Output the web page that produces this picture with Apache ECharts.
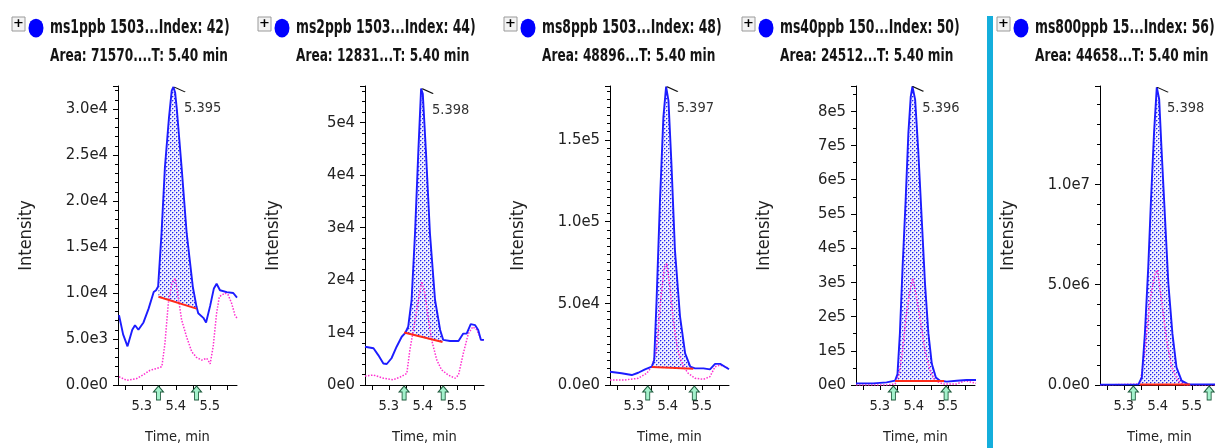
<!DOCTYPE html>
<html>

<head>
    <meta charset="utf-8" />
    <script src="https://cdn.jsdelivr.net/npm/echarts@6/dist/echarts.min.js"></script>
    <style>
        html, body { margin: 0; padding: 0; background: #fff; }
        #main { width: 1215px; height: 448px; }
    </style>
</head>

<body>
    <div id="main"></div>
    <script type="text/javascript">
        const TITLES = ['ms1ppb 1503...Index: 42)', 'ms2ppb 1503...Index: 44)', 'ms8ppb 1503...Index: 48)', 'ms40ppb 150...Index: 50)', 'ms800ppb 15...Index: 56)'];
        const AREAS = ['Area: 71570....T: 5.40 min', 'Area: 12831...T: 5.40 min', 'Area: 48896...T: 5.40 min', 'Area: 24512...T: 5.40 min', 'Area: 44658...T: 5.40 min'];
        const PEAK_RT = ['5.395', '5.398', '5.397', '5.396', '5.398'];
        const TIME_LABELS = [5.3, 5.4, 5.5];
        const TIME_TICKS = [5.25, 5.3, 5.35, 5.4, 5.45, 5.5, 5.55];
        const Y_MAX = [32500, 57000, 183000, 874000, 14900000];
        const Y_STEP = [5000, 10000, 50000, 100000, 5000000];
        const Y_DIGITS = [1, 0, 1, 0, 1];
        const Y_MINOR = [5, 5, 10, 2, 5];

        // [time, intensity]
        const BLUE_1 = [[5.233, 7600], [5.245, 5500], [5.258, 4200], [5.272, 6000], [5.280, 6500], [5.290, 6000], [5.305, 6800], [5.320, 8300], [5.335, 10100], [5.342, 10300], [5.348, 10700], [5.358, 16500], [5.368, 23700], [5.380, 29100], [5.388, 32000], [5.393, 32400], [5.398, 31800], [5.403, 30000], [5.417, 23700], [5.432, 16500], [5.450, 10700], [5.461, 8500], [5.466, 7800], [5.481, 7300], [5.489, 6800], [5.501, 8600], [5.512, 10500], [5.520, 11000], [5.530, 10300], [5.550, 10100], [5.569, 10000], [5.580, 9500]];
        const PINK_1 = [[5.233, 900], [5.256, 500], [5.285, 700], [5.304, 1100], [5.324, 1600], [5.344, 1800], [5.359, 2000], [5.368, 4500], [5.378, 8900], [5.388, 11000], [5.398, 11600], [5.407, 9600], [5.417, 7100], [5.432, 5200], [5.447, 3600], [5.461, 3000], [5.476, 2700], [5.491, 2900], [5.501, 2300], [5.510, 4200], [5.520, 7800], [5.528, 9600], [5.545, 10000], [5.554, 9800], [5.564, 8900], [5.574, 7600], [5.581, 7200]];
        const BASE_1 = [[5.349, 9600], [5.461, 8300]];
        const ARROWS_1 = [5.349, 5.461];

        const BLUE_2 = [[5.230, 7300], [5.255, 7000], [5.269, 5700], [5.284, 4100], [5.294, 4000], [5.308, 5100], [5.323, 7300], [5.338, 9200], [5.348, 9900], [5.357, 11100], [5.367, 16200], [5.377, 28800], [5.387, 44800], [5.395, 56500], [5.400, 55500], [5.409, 44800], [5.421, 28900], [5.436, 16200], [5.451, 10500], [5.460, 8600], [5.480, 8400], [5.505, 8400], [5.519, 9800], [5.529, 9800], [5.541, 11600], [5.554, 11400], [5.563, 10500], [5.571, 8600], [5.580, 8600]];
        const PINK_2 = [[5.230, 1700], [5.255, 1900], [5.284, 1300], [5.313, 1000], [5.333, 1500], [5.353, 2200], [5.362, 6700], [5.374, 11100], [5.387, 16200], [5.397, 19700], [5.406, 17500], [5.414, 13600], [5.426, 8600], [5.441, 4800], [5.455, 2900], [5.475, 1900], [5.495, 1300], [5.505, 1900], [5.519, 6000], [5.534, 9800], [5.547, 11100], [5.559, 10500], [5.570, 8900], [5.578, 8400]];
        const BASE_2 = [[5.345, 10000], [5.458, 8200]];
        const ARROWS_2 = [5.345, 5.460];

        const BLUE_3 = [[5.230, 8100], [5.264, 7200], [5.294, 6100], [5.313, 7500], [5.333, 9600], [5.353, 11200], [5.360, 15300], [5.367, 52000], [5.377, 113000], [5.387, 164000], [5.395, 182600], [5.402, 174000], [5.411, 134000], [5.421, 82600], [5.436, 41800], [5.451, 19400], [5.466, 11200], [5.480, 10200], [5.505, 10200], [5.524, 9600], [5.539, 12900], [5.554, 12900], [5.568, 11200], [5.580, 9600]];
        const PINK_3 = [[5.230, 3100], [5.274, 3100], [5.313, 4100], [5.338, 7200], [5.353, 11200], [5.367, 21400], [5.379, 52000], [5.390, 72000], [5.397, 74500], [5.406, 60000], [5.416, 39800], [5.429, 21400], [5.446, 11200], [5.460, 7200], [5.480, 4100], [5.505, 3500], [5.524, 5100], [5.539, 11200], [5.554, 12200], [5.568, 11200], [5.580, 10200]];
        const BASE_3 = [[5.353, 11000], [5.475, 10000]];
        const ARROWS_3 = [5.341, 5.478];

        const BLUE_4 = [[5.230, 4700], [5.281, 4700], [5.320, 7600], [5.345, 12600], [5.352, 32000], [5.359, 150000], [5.367, 345000], [5.376, 540000], [5.384, 736000], [5.391, 843000], [5.396, 873000], [5.404, 834000], [5.413, 687000], [5.423, 492000], [5.433, 296000], [5.443, 150000], [5.453, 62000], [5.465, 22000], [5.477, 12600], [5.497, 10000], [5.526, 12600], [5.555, 14700], [5.583, 14700]];
        const PINK_4 = [[5.230, 0], [5.320, 0], [5.345, 3000], [5.357, 32000], [5.367, 100000], [5.377, 198000], [5.389, 277000], [5.397, 312000], [5.406, 267000], [5.418, 198000], [5.433, 100000], [5.448, 42000], [5.462, 12600], [5.487, 3000], [5.526, 3000], [5.551, 12600], [5.583, 5000]];
        const BASE_4 = [[5.345, 12000], [5.489, 12000]];
        const ARROWS_4 = [5.340, 5.495];

        const BLUE_5 = [[5.230, 20000], [5.343, 30000], [5.353, 381000], [5.362, 2560000], [5.372, 5900000], [5.380, 9240000], [5.389, 12600000], [5.397, 14840000], [5.404, 14260000], [5.411, 11750000], [5.421, 8400000], [5.431, 5070000], [5.443, 2560000], [5.455, 880000], [5.470, 220000], [5.490, 30000], [5.580, 30000]];
        const PINK_5 = [[5.230, 0], [5.348, 50000], [5.362, 1720000], [5.377, 4230000], [5.392, 5570000], [5.399, 5730000], [5.411, 4230000], [5.426, 2220000], [5.441, 880000], [5.460, 200000], [5.480, 0], [5.580, 0]];
        const BASE_5 = [[5.348, 30000], [5.495, 30000]];
        const ARROWS_5 = [5.328, 5.551];

        const PANELS = [
            { blue: BLUE_1, pink: PINK_1, base: BASE_1, arrows: ARROWS_1 },
            { blue: BLUE_2, pink: PINK_2, base: BASE_2, arrows: ARROWS_2 },
            { blue: BLUE_3, pink: PINK_3, base: BASE_3, arrows: ARROWS_3 },
            { blue: BLUE_4, pink: PINK_4, base: BASE_4, arrows: ARROWS_4 },
            { blue: BLUE_5, pink: PINK_5, base: BASE_5, arrows: ARROWS_5 }
        ];

        const GRID_LEFT = [118, 365, 610, 856, 1100];
        const HEAD_X = [12, 258, 504, 742, 997];
        const FONT = '"DejaVu Sans Condensed", "DejaVu Sans", sans-serif';
        const ARROW = 'path://M5,0L10,6L7,6L7,14L3,14L3,6L0,6Z';

        // dotted fill used for the integrated peak area
        const pc = document.createElement('canvas');
        pc.width = 4; pc.height = 4;
        const pctx = pc.getContext('2d');
        pctx.fillStyle = '#f0f0fe';
        pctx.fillRect(0, 0, 4, 4);
        pctx.fillStyle = '#a8a8f8';
        [[1, 0], [0, 1], [3, 2], [2, 3]].forEach(d => pctx.fillRect(d[0], d[1], 1, 1));
        pctx.fillStyle = '#2424f0';
        pctx.fillRect(0, 0, 1, 1);
        pctx.fillRect(2, 2, 1, 1);
        const dots = { image: pc, repeat: 'repeat' };

        function interp(pts, t) {
            for (let k = 0; k < pts.length - 1; k++) {
                const a = pts[k], b = pts[k + 1];
                if (t >= a[0] && t <= b[0]) {
                    return a[1] + (b[1] - a[1]) * (t - a[0]) / (b[0] - a[0]);
                }
            }
            return pts[pts.length - 1][1];
        }

        function peakArea(blue, base) {
            const [t0, b0] = base[0], [t1, b1] = base[1];
            const top = [[t0, interp(blue, t0)]]
                .concat(blue.filter(p => p[0] > t0 && p[0] < t1))
                .concat([[t1, interp(blue, t1)]]);
            return top.concat([[t1, b1], [t0, b0]]);
        }

        const grid = [], xAxis = [], yAxis = [], series = [], graphic = [];

        PANELS.forEach((p, i) => {
            grid.push({ left: GRID_LEFT[i], top: 86, width: 119, height: 299, containLabel: false, outerBoundsMode: 'none' });
            xAxis.push({
                type: 'value', gridIndex: i, min: 5.23, max: 5.58,
                name: 'Time, min', nameLocation: 'middle', nameGap: 45,
                nameTextStyle: { fontFamily: FONT, fontSize: 14.5, color: '#222' },
                axisLine: { show: true, lineStyle: { color: '#000', width: 1 } },
                axisTick: { show: true, customValues: TIME_TICKS, length: 5, lineStyle: { color: '#000' } },
                axisLabel: { customValues: TIME_LABELS, formatter: v => v.toFixed(1), margin: 14, fontFamily: FONT, fontSize: 14.5, color: '#222' },
                splitLine: { show: false }
            });
            yAxis.push({
                type: 'value', gridIndex: i, min: 0, max: Y_MAX[i], interval: Y_STEP[i],
                name: 'Intensity', nameLocation: 'middle', nameGap: 83,
                nameTextStyle: { fontFamily: FONT, fontSize: 18, color: '#222' },
                axisLine: { show: true, lineStyle: { color: '#000', width: 1 } },
                axisTick: { show: true, length: 5, lineStyle: { color: '#000' } },
                minorTick: { show: true, splitNumber: Y_MINOR[i], length: 3, lineStyle: { color: '#000' } },
                axisLabel: {
                    showMaxLabel: false, margin: 10, fontFamily: FONT, fontSize: 16.5, color: '#222',
                    formatter: v => v.toExponential(Y_DIGITS[i]).replace('+', '')
                },
                splitLine: { show: false },
                minorSplitLine: { show: false }
            });

            const area = peakArea(p.blue, p.base);
            series.push({
                type: 'custom', xAxisIndex: i, yAxisIndex: i, z: 1, silent: true,
                data: area,
                renderItem: (params, api) => {
                    if (params.dataIndex !== 0) return null;
                    return {
                        type: 'polygon',
                        shape: { points: area.map(q => api.coord(q)) },
                        style: { fill: dots, stroke: null }
                    };
                }
            });
            series.push({
                type: 'line', xAxisIndex: i, yAxisIndex: i, z: 2, data: p.pink, symbol: 'none', silent: true,
                lineStyle: { color: '#ff2fd0', width: 1.5, type: 'dotted' }
            });
            series.push({
                type: 'line', xAxisIndex: i, yAxisIndex: i, z: 3, data: p.blue, symbol: 'none', silent: true,
                lineStyle: { color: '#1c1cff', width: 1.9 }
            });
            series.push({
                type: 'line', xAxisIndex: i, yAxisIndex: i, z: 4, data: p.base, symbol: 'none', silent: true,
                lineStyle: { color: '#ff2a1a', width: 2 }
            });
            series.push({
                type: 'scatter', xAxisIndex: i, yAxisIndex: i, z: 6, clip: false, silent: true,
                data: p.arrows.map(t => [t, 0]),
                symbol: ARROW, symbolSize: [10, 14], symbolOffset: [0, 8],
                itemStyle: { color: '#a4f2cc', borderColor: '#1d5a3c', borderWidth: 1, opacity: 1 }
            });
            const apex = Math.max(...p.blue.map(q => q[1]));
            series.push({
                type: 'scatter', xAxisIndex: i, yAxisIndex: i, z: 6, clip: false, silent: true,
                data: [[parseFloat(PEAK_RT[i]), apex]],
                symbol: 'path://M0,0L12,6', symbolSize: [11, 5], symbolOffset: [5.5, 2.5],
                itemStyle: { color: 'transparent', borderColor: '#111', borderWidth: 1.2, opacity: 1 },
                label: {
                    show: true, formatter: PEAK_RT[i], position: 'right', distance: -2, offset: [0, 19],
                    fontFamily: FONT, fontSize: 14.5, color: '#333'
                }
            });

            const hx = HEAD_X[i];
            graphic.push(
                { type: 'rect', x: hx, y: 17, shape: { width: 13, height: 14 }, style: { fill: '#f3f3f3', stroke: '#9a9a9a', lineWidth: 1 } },
                { type: 'text', x: hx + 6.5, y: 24, style: { text: '+', fill: '#000', font: 'bold 13px "DejaVu Sans", sans-serif', align: 'center', verticalAlign: 'middle' } },
                { type: 'circle', x: hx + 24, y: 28, scaleY: 1.25, shape: { cx: 0, cy: 0, r: 7.5 }, style: { fill: '#0000ff' } },
                { type: 'text', x: hx + 38, y: 28, scaleY: 1.35, style: { text: TITLES[i], fill: '#141414', font: 'bold 13.8px ' + FONT, verticalAlign: 'middle' } },
                { type: 'text', x: hx + 38, y: 56, scaleY: 1.35, style: { text: AREAS[i], fill: '#141414', font: 'bold 13.5px ' + FONT, verticalAlign: 'middle' } }
            );
        });

        graphic.push({ type: 'rect', x: 987, y: 16, shape: { width: 6, height: 440 }, style: { fill: '#14aedc' } });

        const myChart = echarts.init(document.getElementById('main'));
        myChart.setOption({
            animation: false,
            backgroundColor: '#fff',
            grid: grid,
            xAxis: xAxis,
            yAxis: yAxis,
            series: series,
            graphic: graphic
        });
    </script>
</body>

</html>
